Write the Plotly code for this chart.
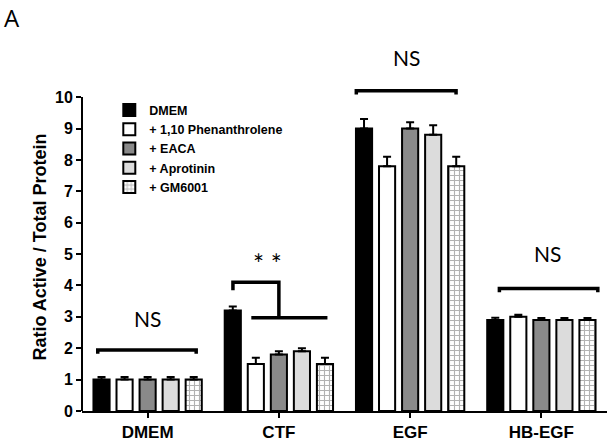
import plotly.graph_objects as go

groups = ["DMEM", "CTF", "EGF", "HB-EGF"]
series = ["DMEM", "+ 1,10 Phenanthrolene", "+ EACA", "+ Aprotinin", "+ GM6001"]
values = {
    "DMEM": [1.0, 3.2, 9.0, 2.9],
    "+ 1,10 Phenanthrolene": [1.0, 1.5, 7.8, 3.0],
    "+ EACA": [1.0, 1.8, 9.0, 2.9],
    "+ Aprotinin": [1.0, 1.9, 8.8, 2.9],
    "+ GM6001": [1.0, 1.5, 7.8, 2.9],
}
errors = {
    "DMEM": [0.08, 0.13, 0.3, 0.07],
    "+ 1,10 Phenanthrolene": [0.08, 0.2, 0.3, 0.07],
    "+ EACA": [0.08, 0.1, 0.2, 0.06],
    "+ Aprotinin": [0.08, 0.1, 0.3, 0.06],
    "+ GM6001": [0.08, 0.2, 0.3, 0.06],
}
fills = {
    "DMEM": "#000000",
    "+ 1,10 Phenanthrolene": "#ffffff",
    "+ EACA": "#8a8a8a",
    "+ Aprotinin": "#dcdcdc",
    "+ GM6001": "#ffffff",
}
y_ticks = list(range(0, 11))

# significance annotations: (x-start, x-end in category units, level)
ns_brackets = [(-0.38, 0.37, 1.94), (1.59, 2.35, 10.2), (2.68, 3.43, 3.9)]
ns_labels = [(0.0, 2.96), (1.97, 11.27), (3.05, 5.03)]
ctf_bracket = {"left": 0.65, "mid": 1.0, "right_start": 0.79, "right_end": 1.37,
               "top": 4.1, "tick": 3.85, "low": 2.97}
star_label = (0.91, 4.68)

Y_MAX = 10.45
PX_PER_UNIT = 31.4

fig = go.Figure()
for s in series:
    marker = dict(color=fills[s], line=dict(color="black", width=2))
    if s == "+ GM6001":
        marker["pattern"] = dict(shape="+", fgcolor="#666666", bgcolor="#ffffff",
                                 size=5, solidity=0.4)
    fig.add_trace(go.Bar(
        name=s, x=groups, y=values[s], marker=marker,
        error_y=dict(type="data", symmetric=False, array=errors[s],
                     arrayminus=[0] * len(groups), color="black",
                     thickness=2, width=4),
    ))

line_style = dict(color="black", width=3.5)
for x0, x1, lvl in ns_brackets:
    fig.add_shape(type="path",
                  path=f"M {x0} {lvl - 0.12} L {x0} {lvl} L {x1} {lvl} L {x1} {lvl - 0.12}",
                  xref="x", yref="y", line=line_style)
for x, y in ns_labels:
    y_in = min(y, Y_MAX)
    fig.add_annotation(x=x, y=y_in, yshift=(y - y_in) * PX_PER_UNIT,
                       xref="x", yref="y", text="NS", showarrow=False,
                       font=dict(family="Lato, Open Sans, sans-serif", size=21, color="black"))

c = ctf_bracket
fig.add_shape(type="path",
              path=(f"M {c['left']} {c['tick']} L {c['left']} {c['top']} "
                    f"L {c['mid']} {c['top']} L {c['mid']} {c['low']}"),
              xref="x", yref="y", line=line_style)
fig.add_shape(type="line", x0=c["right_start"], x1=c["right_end"], y0=c["low"], y1=c["low"],
              xref="x", yref="y", line=line_style)
fig.add_annotation(x=star_label[0], y=star_label[1], xref="x", yref="y", text="* *",
                   showarrow=False,
                   font=dict(family="Lato, Open Sans, sans-serif", size=26, color="black"))

# y-axis line only from 0 to 10
fig.add_shape(type="line", xref="paper", yref="y", x0=0, x1=0, y0=-0.03, y1=10,
              line=dict(color="black", width=2))

fig.add_annotation(x=-0.133, y=1.2, xref="paper", yref="paper", xanchor="center",
                   yanchor="middle", text="A", showarrow=False,
                   font=dict(family="Open Sans, sans-serif", size=24, color="black"))

fig.update_layout(
    width=612, height=445,
    margin=dict(l=82, r=5, t=83, b=34, autoexpand=False),
    paper_bgcolor="white", plot_bgcolor="white",
    barmode="group", bargap=0.122, bargroupgap=0.3,
    showlegend=True,
    legend=dict(x=0.052, y=0.962, xanchor="left", yanchor="top",
                font=dict(family="Liberation Sans, Arial, sans-serif",
                          size=12.5, color="black", weight="bold"),
                bgcolor="rgba(0,0,0,0)", tracegroupgap=0, itemwidth=30),
    xaxis=dict(range=[-0.5, 3.5], showline=True, linecolor="black", linewidth=2,
               ticks="outside", ticklen=5, tickwidth=2, tickcolor="black", automargin=False,
               tickfont=dict(family="Liberation Sans, Arial, sans-serif",
                             size=17, color="black", weight="bold"),
               showgrid=False, zeroline=False),
    yaxis=dict(range=[0, Y_MAX], showline=False, tickvals=y_ticks, automargin=False,
               ticks="outside", ticklen=5, tickwidth=2, tickcolor="black",
               tickfont=dict(family="Liberation Sans, Arial, sans-serif",
                             size=16, color="black", weight="bold"),
               title=dict(text="Ratio Active / Total Protein", standoff=3,
                          font=dict(family="Liberation Sans, Arial, sans-serif", size=18,
                                    color="black", weight="bold")),
               showgrid=False, zeroline=False),
)

fig.write_html("out.html", config={"displayModeBar": False},
               post_script="document.body.style.margin='0';")
